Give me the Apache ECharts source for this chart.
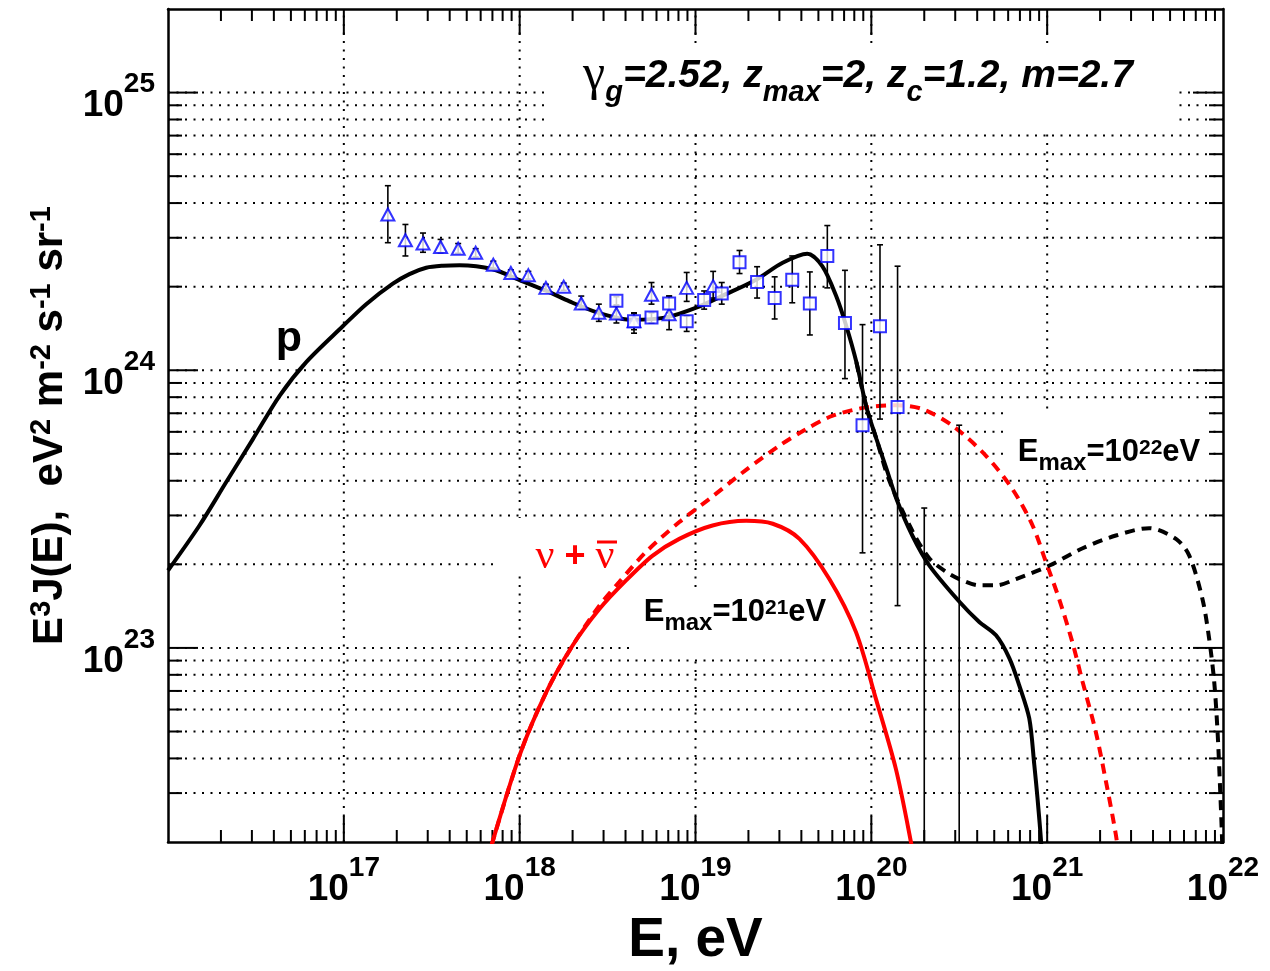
<!DOCTYPE html>
<html>
<head>
<meta charset="utf-8">
<script src="https://cdn.jsdelivr.net/npm/echarts@6/dist/echarts.min.js"></script>
<style>
html, body { margin: 0; padding: 0; background: #fff; }
#main { width: 1270px; height: 971px; }
</style>
</head>
<body>
<div id="main"></div>
<script>
// curves: [E (eV), E^3 J(E)]
var protonSolid = [
    [1.00e16, 1.90e23], [1.51e16, 2.76e23], [2.14e16, 3.95e23], [3.04e16, 5.65e23],
    [4.31e16, 8.09e23], [6.11e16, 1.07e24], [9.86e16, 1.44e24], [1.34e17, 1.73e24],
    [1.90e17, 2.05e24], [2.36e17, 2.22e24], [2.94e17, 2.34e24],
    [3.66e17, 2.38e24], [4.55e17, 2.39e24], [7.03e17, 2.31e24],
    [1.00e18, 2.11e24], [1.42e18, 1.93e24], [1.92e18, 1.77e24], [2.72e18, 1.62e24],
    [3.85e18, 1.53e24], [4.40e18, 1.52e24], [6.81e18, 1.55e24], [1.01e19, 1.68e24],
    [1.49e19, 1.88e24], [2.21e19, 2.12e24], [3.13e19, 2.44e24], [4.32e19, 2.63e24],
    [5.26e19, 2.37e24], [6.31e19, 1.85e24], [7.21e19, 1.44e24], [8.22e19, 1.07e24],
    [9.38e19, 7.36e23], [1.07e20, 5.65e23], [1.22e20, 4.41e23], [1.39e20, 3.44e23],
    [1.71e20, 2.54e23], [2.14e20, 1.98e23], [3.16e20, 1.47e23], [4.11e20, 1.24e23],
    [5.12e20, 1.11e23], [6.10e20, 9.17e22], [6.93e20, 7.35e22], [7.91e20, 5.57e22],
    [8.45e20, 3.79e22], [8.81e20, 2.88e22], [9.23e20, 2.01e22], [9.38e20, 1.60e22]
];
var protonDashed = [
    [8.22e19, 1.07e24], [9.38e19, 7.36e23], [1.07e20, 5.65e23], [1.26e20, 4.03e23],
    [1.72e20, 2.62e23], [2.14e20, 2.10e23], [2.66e20, 1.88e23], [3.16e20, 1.77e23],
    [4.11e20, 1.68e23], [5.12e20, 1.68e23], [6.65e20, 1.77e23], [1.03e21, 1.98e23],
    [1.58e21, 2.28e23], [2.46e21, 2.54e23], [3.80e21, 2.70e23], [5.40e21, 2.47e23],
    [6.43e21, 2.15e23], [7.64e21, 1.50e23], [8.34e21, 1.08e23], [8.91e21, 7.57e22],
    [9.31e21, 5.00e22], [9.59e21, 3.31e22], [9.86e21, 2.12e22], [9.98e21, 1.60e22]
];
var nuSolid = [
    [6.50e17, 1.70e22], [1.00e18, 4.11e22], [1.42e18, 6.95e22], [2.00e18, 1.02e23],
    [2.84e18, 1.38e23], [4.03e18, 1.75e23], [5.71e18, 2.15e23], [8.09e18, 2.47e23],
    [1.25e19, 2.76e23], [1.94e19, 2.87e23], [2.75e19, 2.80e23], [3.90e19, 2.47e23],
    [5.77e19, 1.77e23], [8.18e19, 1.14e23], [1.06e20, 6.58e22], [1.38e20, 3.66e22],
    [1.68e20, 2.00e22], [1.78e20, 1.60e22]
];
var nuDashed = [
    [6.50e17, 1.70e22], [1.00e18, 4.11e22], [1.42e18, 6.95e22], [2.00e18, 1.02e23],
    [2.84e18, 1.42e23], [3.69e18, 1.73e23], [5.24e18, 2.22e23], [8.09e18, 2.84e23],
    [1.20e19, 3.44e23], [1.94e19, 4.38e23], [3.00e19, 5.35e23], [4.26e19, 6.14e23],
    [6.03e19, 6.86e23], [9.33e19, 7.35e23], [1.38e20, 7.48e23], [1.96e20, 7.24e23],
    [2.90e20, 6.31e23], [4.49e20, 4.92e23], [6.35e20, 3.73e23], [8.26e20, 2.76e23],
    [9.84e20, 2.04e23], [1.17e21, 1.50e23], [1.39e21, 1.05e23], [1.59e21, 7.55e22],
    [1.89e21, 4.99e22], [2.16e21, 3.30e22], [2.46e21, 2.12e22], [2.57e21, 1.70e22]
];

// measured points (triangles)
var triE  = [1.78e17, 2.24e17, 2.82e17, 3.55e17, 4.47e17, 5.62e17, 7.08e17, 8.91e17, 1.12e18, 1.41e18,
             1.78e18, 2.24e18, 2.82e18, 3.55e18, 4.47e18, 5.62e18, 7.08e18, 8.91e18, 1.26e19];
var triJ  = [3.64e24, 2.94e24, 2.86e24, 2.78e24, 2.74e24, 2.65e24, 2.40e24, 2.24e24, 2.20e24, 1.98e24,
             2.00e24, 1.74e24, 1.61e24, 1.60e24, 1.50e24, 1.87e24, 1.59e24, 1.98e24, 2.01e24];
var triHi = [4.62e24, 3.35e24, 3.12e24, 2.96e24, 2.86e24, 2.74e24, 2.47e24, 2.30e24, 2.27e24, 2.04e24,
             2.06e24, 1.85e24, 1.73e24, 1.70e24, 1.60e24, 2.07e24, 1.85e24, 2.25e24, 2.27e24];
var triLo = [2.88e24, 2.58e24, 2.66e24, 2.65e24, 2.64e24, 2.56e24, 2.33e24, 2.18e24, 2.13e24, 1.93e24,
             1.94e24, 1.66e24, 1.50e24, 1.48e24, 1.40e24, 1.73e24, 1.40e24, 1.77e24, 1.82e24];

// measured points (squares)
var sqE  = [3.55e18, 4.47e18, 5.62e18, 7.08e18, 8.91e18, 1.12e19, 1.41e19, 1.78e19, 2.24e19,
            2.82e19, 3.55e19, 4.47e19, 5.62e19, 7.08e19, 8.91e19, 1.12e20, 1.41e20];
var sqJ  = [1.78e24, 1.50e24, 1.55e24, 1.74e24, 1.50e24, 1.79e24, 1.89e24, 2.45e24, 2.08e24,
            1.82e24, 2.12e24, 1.74e24, 2.58e24, 1.48e24, 6.34e23, 1.44e24, 7.38e23];
var sqHi = [1.84e24, 1.61e24, 1.61e24, 1.85e24, 1.57e24, 1.93e24, 2.07e24, 2.70e24, 2.36e24,
            2.17e24, 2.58e24, 2.26e24, 3.32e24, 2.29e24, 1.46e24, 2.83e24, 2.37e24];
var sqLo = [1.72e24, 1.36e24, 1.48e24, 1.61e24, 1.38e24, 1.66e24, 1.73e24, 2.23e24, 1.82e24,
            1.53e24, 1.75e24, 1.34e24, 1.98e24, 9.33e23, 2.20e23, 6.67e23, 1.42e23];

// bars without a marker (upper end only, lower end off scale)
var limE  = [2.00e20, 3.16e20];
var limHi = [3.19e23, 6.34e23];
var limLo = [1.00e22, 1.00e22];

var xMin = 1e16, xMax = 1e22, yMin = 2e22, yMax = 2e25;
var xDecades = [1e16, 1e17, 1e18, 1e19, 1e20, 1e21];
var yDecades = [1e22, 1e23, 1e24, 1e25];
var steps = [1, 2, 3, 4, 5, 6, 7, 8, 9];

var FONT = 'Liberation Sans';

function isMajor(v) {
    var l = Math.log10(v);
    return Math.abs(l - Math.round(l)) < 1e-6;
}

function tickValues(decades, lo, hi) {
    var out = [];
    for (var i = 0; i < decades.length; i++) {
        for (var j = 0; j < steps.length; j++) {
            var v = decades[i] * steps[j];
            if (v > lo * 1.0001 && v < hi * 0.9999) out.push(v);
        }
    }
    return out;
}

var xTicks = tickValues(xDecades, xMin, xMax);
var yTicks = tickValues(yDecades, yMin, yMax);

function zip3(a, b, c) {
    var r = [];
    for (var i = 0; i < a.length; i++) r.push([a[i], b[i], c[i]]);
    return r;
}
function zip2(a, b) {
    var r = [];
    for (var i = 0; i < a.length; i++) r.push([a[i], b[i]]);
    return r;
}

function line(x1, y1, x2, y2, style) {
    return { type: 'line', shape: { x1: x1, y1: y1, x2: x2, y2: y2 }, style: style };
}

// ticks on all four sides
function renderXTick(params, api) {
    var v = api.value(0);
    var b = api.coord([v, yMin]);
    var t = api.coord([v, yMax]);
    var len = isMajor(v) ? 26 : 12;
    return { type: 'group', children: [
        line(b[0], b[1], b[0], b[1] - len, { stroke: '#000', lineWidth: 2 }),
        line(t[0], t[1], t[0], t[1] + len, { stroke: '#000', lineWidth: 2 })
    ] };
}
function renderYTick(params, api) {
    var v = api.value(1);
    var l = api.coord([xMin, v]);
    var r = api.coord([xMax, v]);
    var len = isMajor(v) ? 30 : 14;
    return { type: 'group', children: [
        line(l[0], l[1], l[0] + len, l[1], { stroke: '#000', lineWidth: 2 }),
        line(r[0], r[1], r[0] - len, r[1], { stroke: '#000', lineWidth: 2 })
    ] };
}
// dotted grid
function renderHGrid(params, api) {
    var v = api.value(1);
    var l = api.coord([xMin, v]);
    var r = api.coord([xMax, v]);
    return line(l[0], l[1], r[0], r[1], { stroke: '#000', lineWidth: 2, lineDash: [2, 6.5] });
}
function renderVGrid(params, api) {
    var v = api.value(0);
    var b = api.coord([v, yMin]);
    var t = api.coord([v, yMax]);
    if (!isMajor(v)) return null;
    return line(b[0], b[1], t[0], t[1], { stroke: '#000', lineWidth: 2, lineDash: [2, 6.5] });
}
// error bars with caps
function renderErr(params, api) {
    var x = api.value(0);
    var lo = api.coord([x, api.value(1)]);
    var hi = api.coord([x, api.value(2)]);
    var w = 3;
    return { type: 'group', children: [
        line(lo[0], lo[1], hi[0], hi[1], { stroke: '#000', lineWidth: 1.6 }),
        line(hi[0] - w, hi[1], hi[0] + w, hi[1], { stroke: '#000', lineWidth: 1.6 }),
        line(lo[0] - w, lo[1], lo[0] + w, lo[1], { stroke: '#000', lineWidth: 1.6 })
    ] };
}

var labelRich = {
    b: { fontSize: 37, fontWeight: 'bold', fontFamily: FONT, color: '#000', lineHeight: 36, verticalAlign: 'bottom' },
    s: { fontSize: 28, fontWeight: 'bold', fontFamily: FONT, color: '#000', lineHeight: 28, verticalAlign: 'bottom', padding: [0, 0, 26, 0] }
};

function powLabel(value) {
    if (!isMajor(value)) return '';
    var e = Math.round(Math.log10(value));
    if (e <= 16 || e >= 26) return '';
    return '{b|10}{s|' + e + '}';
}

var myChart = echarts.init(document.getElementById('main'), null, { renderer: 'canvas' });

var option = {
    backgroundColor: '#fff',
    animation: false,
    grid: { left: 168, right: 47, top: 9, bottom: 129, containLabel: false, outerBoundsMode: 'none' },
    xAxis: [{
        type: 'log', logBase: 10, min: xMin, max: xMax, position: 'bottom',
        axisLine: { show: true, onZero: false, lineStyle: { color: '#000', width: 2.5 } },
        axisTick: { show: false },
        splitLine: { show: false },
        axisLabel: { formatter: powLabel, margin: 30, rich: labelRich },
        name: 'E, eV', nameLocation: 'middle', nameGap: 70,
        nameTextStyle: { fontSize: 55, fontWeight: 'bold', fontFamily: FONT, color: '#000' }
    }, {
        type: 'log', logBase: 10, min: xMin, max: xMax, position: 'top',
        axisLine: { show: true, onZero: false, lineStyle: { color: '#000', width: 2.5 } },
        axisTick: { show: false }, axisLabel: { show: false }, splitLine: { show: false }
    }],
    yAxis: [{
        type: 'log', logBase: 10, min: yMin, max: yMax, position: 'left',
        axisLine: { show: true, onZero: false, lineStyle: { color: '#000', width: 2.5 } },
        axisTick: { show: false },
        splitLine: { show: false },
        axisLabel: { formatter: powLabel, margin: 13, padding: [28, 0, 0, 0], rich: labelRich },
        name: '{b|E}{s|3}{b|J(E),  eV}{s|2}{b| m}{s|-2}{b| s}{s|-1}{b| sr}{s|-1}',
        nameLocation: 'middle', nameGap: 94, nameRotate: 90,
        nameTextStyle: {
            rich: {
                b: { fontSize: 42, fontWeight: 'bold', fontFamily: FONT, color: '#000', lineHeight: 46, verticalAlign: 'middle' },
                s: { fontSize: 29, fontWeight: 'bold', fontFamily: FONT, color: '#000', lineHeight: 29, verticalAlign: 'top' }
            }
        }
    }, {
        type: 'log', logBase: 10, min: yMin, max: yMax, position: 'right',
        axisLine: { show: true, onZero: false, lineStyle: { color: '#000', width: 2.5 } },
        axisTick: { show: false }, axisLabel: { show: false }, splitLine: { show: false }
    }],
    graphic: [
        // white boxes behind the labels (they hide the grid)
        { type: 'rect', z: 3, shape: { x: 546, y: 44, width: 632, height: 84 }, style: { fill: '#fff' } },
        { type: 'rect', z: 3, shape: { x: 1007, y: 412, width: 205, height: 66 }, style: { fill: '#fff' } },
        { type: 'rect', z: 3, shape: { x: 495, y: 518, width: 145, height: 57 }, style: { fill: '#fff' } },
        { type: 'rect', z: 3, shape: { x: 632, y: 592, width: 223, height: 63 }, style: { fill: '#fff' } },
        {
            type: 'text', z: 20, x: 858, y: 76,
            style: {
                text: '{g|γ}{ts|g}{t|=2.52, z}{ts|max}{t|=2, z}{ts|c}{t|=1.2, m=2.7}',
                textAlign: 'center', textVerticalAlign: 'middle',
                rich: {
                    g: { fontSize: 50, fontFamily: 'Liberation Serif', fill: '#000', lineHeight: 54 },
                    t: { fontSize: 39, fontWeight: 'bold', fontStyle: 'italic', fontFamily: FONT, fill: '#000', lineHeight: 50 },
                    ts: { fontSize: 29, fontWeight: 'bold', fontStyle: 'italic', fontFamily: FONT, fill: '#000', lineHeight: 29, verticalAlign: 'top', padding: [29, 0, 0, 0] }
                }
            }
        },
        {
            type: 'text', z: 20, x: 289, y: 339,
            style: { text: 'p', fontSize: 43, fontWeight: 'bold', fontFamily: FONT, fill: '#000', textAlign: 'center', textVerticalAlign: 'middle' }
        },
        {
            type: 'text', z: 20, x: 575, y: 557,
            style: {
                text: '{n|ν}{p| + }{n|ν}',
                textAlign: 'center', textVerticalAlign: 'middle',
                rich: {
                    n: { fontSize: 42, fontFamily: 'Liberation Serif', fill: '#ff0000', lineHeight: 44 },
                    p: { fontSize: 36, fontWeight: 'bold', fontFamily: FONT, fill: '#ff0000', lineHeight: 44 }
                }
            }
        },
        { type: 'line', z: 20, shape: { x1: 597, y1: 542, x2: 617, y2: 542 }, style: { stroke: '#ff0000', lineWidth: 3 } },
        {
            type: 'text', z: 20, x: 735, y: 612,
            style: {
                text: '{e|E}{sub|max}{e|=10}{sup|21}{e|eV}',
                textAlign: 'center', textVerticalAlign: 'middle',
                rich: {
                    e: { fontSize: 31, fontWeight: 'bold', fontFamily: FONT, fill: '#000', lineHeight: 40 },
                    sub: { fontSize: 24, fontWeight: 'bold', fontFamily: FONT, fill: '#000', lineHeight: 24, verticalAlign: 'top', padding: [19, 0, 0, 0] },
                    sup: { fontSize: 21, fontWeight: 'bold', fontFamily: FONT, fill: '#000', lineHeight: 21, verticalAlign: 'top', padding: [6, 0, 0, 0] }
                }
            }
        },
        {
            type: 'text', z: 20, x: 1109, y: 452,
            style: {
                text: '{e|E}{sub|max}{e|=10}{sup|22}{e|eV}',
                textAlign: 'center', textVerticalAlign: 'middle',
                rich: {
                    e: { fontSize: 31, fontWeight: 'bold', fontFamily: FONT, fill: '#000', lineHeight: 40 },
                    sub: { fontSize: 24, fontWeight: 'bold', fontFamily: FONT, fill: '#000', lineHeight: 24, verticalAlign: 'top', padding: [19, 0, 0, 0] },
                    sup: { fontSize: 21, fontWeight: 'bold', fontFamily: FONT, fill: '#000', lineHeight: 21, verticalAlign: 'top', padding: [6, 0, 0, 0] }
                }
            }
        }
    ],
    series: [
        {
            type: 'custom', z: 1, silent: true,
            data: yTicks.map(function (v) { return [xMin, v]; }),
            renderItem: renderHGrid
        },
        {
            type: 'custom', z: 1, silent: true,
            data: xTicks.map(function (v) { return [v, yMin]; }),
            renderItem: renderVGrid
        },
        {
            type: 'custom', z: 4, silent: true,
            data: xTicks.map(function (v) { return [v, yMin]; }),
            renderItem: renderXTick
        },
        {
            type: 'custom', z: 4, silent: true,
            data: yTicks.map(function (v) { return [xMin, v]; }),
            renderItem: renderYTick
        },
        {
            name: 'nu Emax=1e22', type: 'line', z: 5, data: nuDashed,
            showSymbol: false, symbol: 'none', smooth: 0.3,
            lineStyle: { color: '#ff0000', width: 4, type: [10, 7] }
        },
        {
            name: 'nu Emax=1e21', type: 'line', z: 6, data: nuSolid,
            showSymbol: false, symbol: 'none', smooth: 0.3,
            lineStyle: { color: '#ff0000', width: 4 }
        },
        {
            name: 'p Emax=1e22', type: 'line', z: 5, data: protonDashed,
            showSymbol: false, symbol: 'none', smooth: 0.3,
            lineStyle: { color: '#000', width: 4, type: [10, 7] }
        },
        {
            name: 'p Emax=1e21', type: 'line', z: 6, data: protonSolid,
            showSymbol: false, symbol: 'none', smooth: 0.3,
            lineStyle: { color: '#000', width: 4 }
        },
        {
            type: 'custom', z: 7, silent: true, clip: true,
            data: zip3(triE, triLo, triHi).concat(zip3(sqE, sqLo, sqHi)).concat(zip3(limE, limLo, limHi)),
            renderItem: renderErr
        },
        {
            name: 'triangles', type: 'scatter', z: 8, data: zip2(triE, triJ),
            symbol: 'triangle', symbolSize: [13, 12],
            itemStyle: { color: '#fff', borderColor: '#0000ff', borderWidth: 2 }
        },
        {
            name: 'squares', type: 'scatter', z: 8, data: zip2(sqE, sqJ),
            symbol: 'rect', symbolSize: 12,
            itemStyle: { color: '#fff', borderColor: '#0000ff', borderWidth: 2 }
        }
    ]
};

myChart.setOption(option);
</script>
</body>
</html>
